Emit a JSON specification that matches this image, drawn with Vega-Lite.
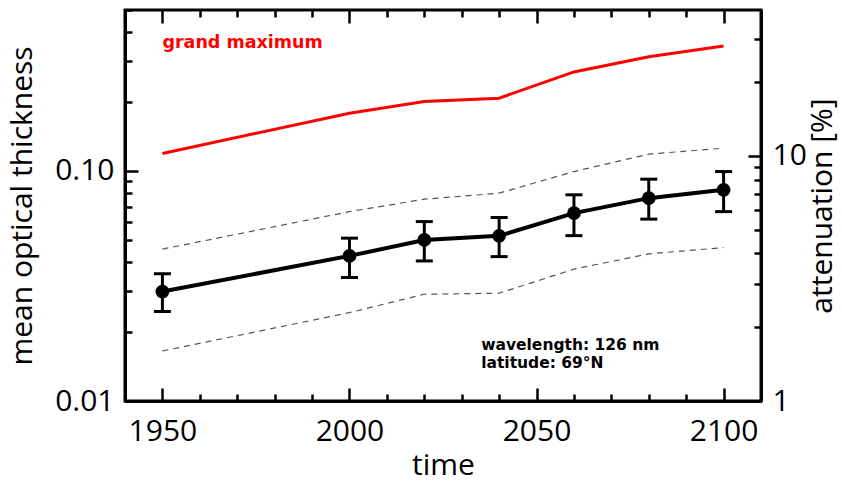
{
  "$schema": "https://vega.github.io/schema/vega-lite/v6.json",
  "width": 636,
  "height": 391,
  "autosize": "none",
  "padding": {"left": 125, "top": 10, "right": 81, "bottom": 82},
  "background": "white",
  "config": {
    "view": {"stroke": "black", "strokeWidth": 3},
    "font": "Open Sans",
    "axis": {"grid": false, "domainColor": "black", "domainWidth": 3, "tickColor": "black", "tickWidth": 2.5, "labelColor": "black", "titleColor": "black", "labelFont": "Open Sans", "titleFont": "Open Sans", "labelFontSize": 30, "titleFontSize": 30, "titleFontWeight": "normal", "labelOverlap": false, "labelFlush": false, "labelBound": false}
  },
  "datasets": {
    "mean": [
      {"year": 1950, "tau": 0.0299, "lo": 0.0245, "hi": 0.0357},
      {"year": 2000, "tau": 0.0427, "lo": 0.0344, "hi": 0.0510},
      {"year": 2020, "tau": 0.0501, "lo": 0.0406, "hi": 0.0602},
      {"year": 2040, "tau": 0.0522, "lo": 0.0424, "hi": 0.0627},
      {"year": 2060, "tau": 0.0655, "lo": 0.0523, "hi": 0.0787},
      {"year": 2080, "tau": 0.0761, "lo": 0.0617, "hi": 0.0920},
      {"year": 2100, "tau": 0.0827, "lo": 0.0665, "hi": 0.0993}
    ],
    "bounds": [
      {"year": 1950, "tau": 0.0457, "series": "upper"},
      {"year": 2000, "tau": 0.0665, "series": "upper"},
      {"year": 2020, "tau": 0.0753, "series": "upper"},
      {"year": 2040, "tau": 0.0800, "series": "upper"},
      {"year": 2060, "tau": 0.0993, "series": "upper"},
      {"year": 2080, "tau": 0.1182, "series": "upper"},
      {"year": 2100, "tau": 0.1255, "series": "upper"},
      {"year": 1950, "tau": 0.0165, "series": "lower"},
      {"year": 2000, "tau": 0.0242, "series": "lower"},
      {"year": 2020, "tau": 0.0291, "series": "lower"},
      {"year": 2040, "tau": 0.0294, "series": "lower"},
      {"year": 2060, "tau": 0.0374, "series": "lower"},
      {"year": 2080, "tau": 0.0436, "series": "lower"},
      {"year": 2100, "tau": 0.0464, "series": "lower"}
    ],
    "gm": [
      {"year": 1950, "tau": 0.119},
      {"year": 2000, "tau": 0.178},
      {"year": 2020, "tau": 0.200},
      {"year": 2040, "tau": 0.207},
      {"year": 2060, "tau": 0.269},
      {"year": 2080, "tau": 0.313},
      {"year": 2100, "tau": 0.349}
    ],
    "notes": [
      {"year": 2035.2, "tau": 0.0166, "label": "wavelength: 126 nm"},
      {"year": 2035.2, "tau": 0.01395, "label": "latitude: 69°N"}
    ],
    "gmlabel": [
      {"year": 1950, "tau": 0.3416, "label": "grand maximum"}
    ],
    "att": [
      {"year": 1950, "att": 1},
      {"year": 2100, "att": 30}
    ]
  },
  "layer": [
    {
      "layer": [
        {
          "data": {"name": "bounds"},
          "mark": {"type": "line", "color": "#555555", "strokeWidth": 1.2, "strokeDash": [6, 5]},
          "encoding": {
            "x": {
              "field": "year", "type": "quantitative",
              "scale": {"domain": [1940, 2110], "nice": false, "zero": false},
              "axis": {
                "orient": "bottom", "title": "time", "titlePadding": 4,
                "values": [1950, 2000, 2050, 2100],
                "labelOverlap": false,
                "labelFlush": false,
                "format": "d",
                "tickSize": -13,
                "labelPadding": 28
              }
            },
            "y": {
              "field": "tau", "type": "quantitative",
              "scale": {"type": "log", "domain": [0.01, 0.5], "nice": false},
              "axis": {
                "orient": "left", "title": "mean optical thickness", "titlePadding": 17,
                "values": [0.01, 0.02, 0.03, 0.04, 0.05, 0.06, 0.07, 0.08, 0.09, 0.1, 0.2, 0.3, 0.4, 0.5],
                "labelExpr": "(datum.value == 0.01 || datum.value == 0.1) ? format(datum.value, '.2f') : ''",
                "labelOverlap": false,
                "tickSize": -13,
                "tickDash": {"condition": {"test": "datum.value == 0.01 || datum.value == 0.1", "value": [20, 0]}, "value": [7, 40]},
                "labelPadding": 24
              }
            },
            "detail": {"field": "series"}
          }
        },
        {
          "data": {"name": "gm"},
          "mark": {"type": "line", "color": "#ff0000", "strokeWidth": 3},
          "encoding": {
            "x": {"field": "year", "type": "quantitative"},
            "y": {"field": "tau", "type": "quantitative"}
          }
        },
        {
          "data": {"name": "mean"},
          "mark": {"type": "line", "color": "black", "strokeWidth": 4},
          "encoding": {
            "x": {"field": "year", "type": "quantitative"},
            "y": {"field": "tau", "type": "quantitative"}
          }
        },
        {
          "data": {"name": "mean"},
          "mark": {"type": "rule", "color": "black", "strokeWidth": 3},
          "encoding": {
            "x": {"field": "year", "type": "quantitative"},
            "y": {"field": "lo", "type": "quantitative"},
            "y2": {"field": "hi"}
          }
        },
        {
          "data": {"name": "mean"},
          "mark": {"type": "tick", "color": "black", "orient": "horizontal", "size": 17, "thickness": 3, "opacity": 1},
          "encoding": {
            "x": {"field": "year", "type": "quantitative"},
            "y": {"field": "lo", "type": "quantitative"}
          }
        },
        {
          "data": {"name": "mean"},
          "mark": {"type": "tick", "color": "black", "orient": "horizontal", "size": 17, "thickness": 3, "opacity": 1},
          "encoding": {
            "x": {"field": "year", "type": "quantitative"},
            "y": {"field": "hi", "type": "quantitative"}
          }
        },
        {
          "data": {"name": "mean"},
          "mark": {"type": "point", "filled": true, "color": "black", "opacity": 1, "size": 190},
          "encoding": {
            "x": {"field": "year", "type": "quantitative"},
            "y": {"field": "tau", "type": "quantitative"}
          }
        },
        {
          "data": {"name": "gmlabel"},
          "mark": {"type": "text", "color": "#ff0000", "font": "DejaVu Sans", "fontWeight": "bold", "fontSize": 17.5, "align": "left", "baseline": "alphabetic"},
          "encoding": {
            "x": {"field": "year", "type": "quantitative"},
            "y": {"field": "tau", "type": "quantitative"},
            "text": {"field": "label"}
          }
        },
        {
          "data": {"name": "notes"},
          "mark": {"type": "text", "color": "black", "font": "DejaVu Sans", "fontWeight": "bold", "fontSize": 15.5, "align": "left", "baseline": "alphabetic"},
          "encoding": {
            "x": {"field": "year", "type": "quantitative"},
            "y": {"field": "tau", "type": "quantitative"},
            "text": {"field": "label"}
          }
        }
      ]
    },
    {
      "data": {"name": "att"},
      "mark": {"type": "point", "opacity": 0},
      "encoding": {
        "x": {
          "field": "year", "type": "quantitative",
          "scale": {"domain": [1940, 2110], "nice": false, "zero": false},
          "axis": {
            "orient": "top", "title": null, "labels": false, "domain": false,
            "values": [1940, 1950, 1960, 1970, 1980, 1990, 2000, 2010, 2020, 2030, 2040, 2050, 2060, 2070, 2080, 2090, 2100, 2110],
            "tickSize": -13,
            "tickDash": {"condition": {"test": "datum.value % 50 === 0", "value": [20, 0]}, "value": [7, 40]}
          }
        },
        "y": {
          "field": "att", "type": "quantitative",
          "scale": {"type": "log", "domain": [1, 39.4], "nice": false},
          "axis": {
            "orient": "right", "title": "attenuation [%]", "titleAngle": 270, "titleBaseline": "top", "titlePadding": 1,
            "values": [1, 2, 3, 4, 5, 6, 7, 8, 9, 10, 20, 30],
            "labelExpr": "(datum.value == 1 || datum.value == 10) ? datum.label : ''",
            "labelOverlap": false,
            "tickSize": -13,
            "tickDash": {"condition": {"test": "datum.value == 1 || datum.value == 10", "value": [20, 0]}, "value": [7, 40]},
            "labelPadding": 24
          }
        }
      }
    },
    {
      "data": {"name": "att"},
      "mark": {"type": "point", "opacity": 0},
      "encoding": {
        "x": {
          "field": "year", "type": "quantitative",
          "scale": {"domain": [1940, 2110], "nice": false, "zero": false},
          "axis": {
            "orient": "bottom", "title": null, "labels": false, "domain": false,
            "values": [1940, 1960, 1970, 1980, 1990, 2010, 2020, 2030, 2040, 2060, 2070, 2080, 2090, 2110],
            "tickSize": -7
          }
        },
        "y": {
          "field": "att", "type": "quantitative",
          "scale": {"type": "log", "domain": [1, 39.4], "nice": false},
          "axis": null
        }
      }
    }
  ],
  "resolve": {"scale": {"y": "independent"}, "axis": {"x": "independent", "y": "independent"}}
}
